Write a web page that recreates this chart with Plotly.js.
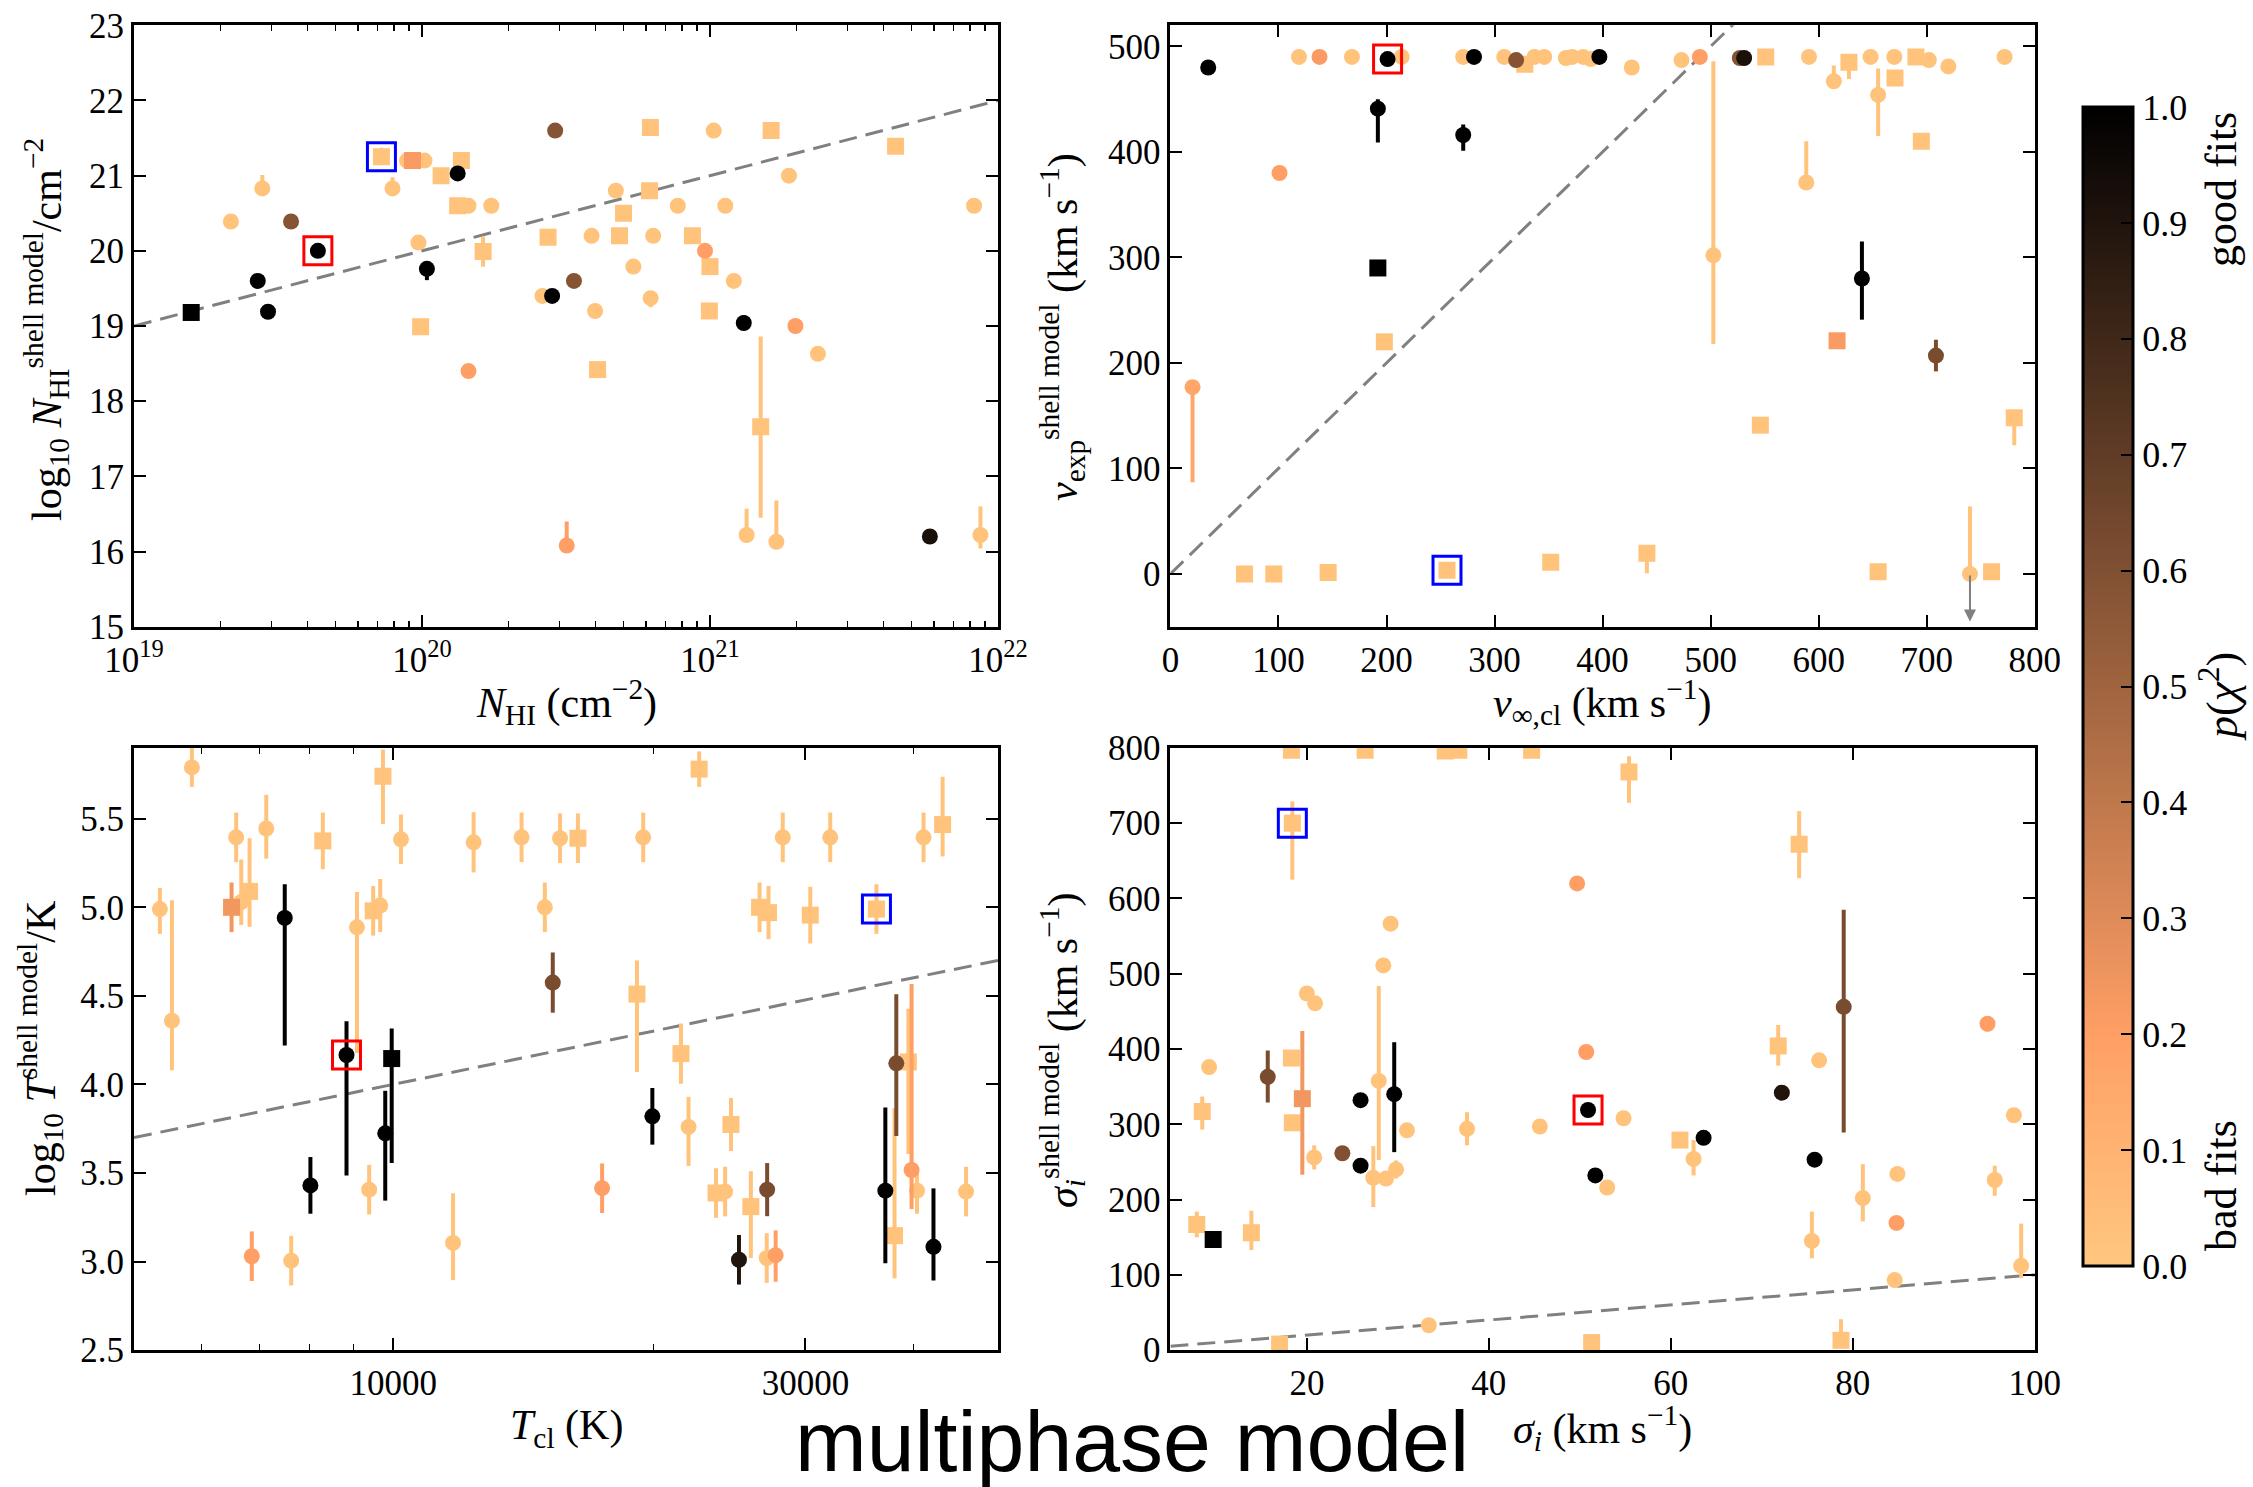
<!DOCTYPE html>
<html><head><meta charset="utf-8">
<script src="https://cdn.plot.ly/plotly-3.0.1.min.js"></script>
<style>body{margin:0;padding:0;background:#fff;} #chart{width:2253px;height:1487px;}</style>
</head><body><div id="chart"></div>
<script>
// ---------------- DATA ----------------
// Panel 1: N_HI (cm^-2) vs log10 N_HI shell model
const p1_x = [1.58e19,2.17e19,2.79e19,2.69e19,2.92e19,3.51e19,4.35e19,7.23e19,7.90e19,8.87e19,1.02e20,9.27e19,9.72e19,1.04e20,9.89e19,1.165e20,1.33e20,1.37e20,1.33e20,1.45e20,1.74e20,1.63e20,1.45e20,2.62e20,2.83e20,2.74e20,2.90e20,3.18e20,3.37e20,6.21e20,1.03e21,1.63e21,4.41e21,1.88e21,4.71e20,6.17e20,5.01e20,7.73e20,1.13e21,8.26e21,3.88e20,4.85e20,6.35e20,8.69e20,9.61e20,5.42e20,1.00e21,1.21e21,6.22e20,3.99e20,9.95e20,1.31e21,1.98e21,2.37e21,4.07e20,1.50e21,1.34e21,1.70e21,5.80e21,8.69e21];
const p1_y = [19.18,20.39,20.83,19.60,19.19,20.39,20.00,21.25,20.83,21.20,21.20,21.20,20.11,19.76,18.99,21.00,21.03,21.20,20.60,20.60,20.60,19.99,18.40,19.40,19.40,20.18,21.60,16.08,19.60,21.64,21.60,21.60,21.39,21.00,20.80,20.80,20.50,20.60,20.60,20.60,20.20,20.20,20.20,20.20,20.00,19.79,19.79,19.60,19.37,19.20,19.20,19.04,19.00,18.63,18.42,17.66,16.22,16.13,16.20,16.22];
const p1_errMinus = [0,0,0,0,0,0,0,0,0,0.1,0,0,0.1,0.15,0,0,0.05,0,0,0,0,0.2,0,0,0,0,0,0,0,0,0,0,0,0,0,0,0.06,0,0,0,0,0,0,0,0,0,0.1,0,0.12,0,0,0,0,0,0,1.21,0.05,0.1,0,0.18];
const p1_errPlus  = [0,0,0.18,0,0,0,0,0.12,0.15,0.1,0,0,0.1,0,0,0,0.08,0,0,0,0,0.2,0,0,0,0,0,0.32,0,0,0,0,0,0,0,0,0.06,0,0,0,0,0,0,0,0,0,0,0,0,0,0,0.1,0,0,0,1.2,0.35,0.55,0,0.38];
const p1_p = [1,0.02,0.02,1,1,0.58,1,0.02,0.02,0.02,0.02,0.22,0.02,1,0.02,0.02,1,0.02,0.02,0.02,0.02,0.02,0.2,0.02,1,0.02,0.58,0.2,0.58,0.02,0.02,0.02,0.02,0.02,0.02,0.02,0.02,0.02,0.02,0.02,0.02,0.02,0.02,0.02,0.2,0.02,0.02,0.02,0.02,0.02,0.02,1,0.2,0.02,0.02,0.02,0.02,0.02,0.92,0.02];
const p1_sym = ['s','c','c','c','c','c','c','s','c','c','c','s','c','c','s','s','c','s','s','c','c','s','c','c','c','s','c','c','c','s','c','s','s','c','c','s','s','c','c','c','c','s','c','s','c','c','s','c','c','c','s','c','c','c','s','s','c','c','c','c'];

// Panel 2: v_inf,cl vs v_exp shell model
const p2_x = [35,119,138,168,201,214,192,271,271,281,309,320,328,337,346,366,372,382,389,397,427,101,192,198,20.5,68.6,95.7,146,256,352,441,473,490,527,531,551,591,628,614,648,670,670.6,690,702,720,772,655,695,588.5,502.5,640,617,708.5,546,781,655,740,760];
const p2_y = [480,490,490,490,488,490,441,416,490,490,490,487,483,490,490,489,490,490,488,490,480,380,290,220,177,0,0,1.3,3.5,11,19.6,487,490,489,489,490,490,485,467,490,490,470,490,487,481,490,454,410,371,302,280,221,207,141,148,2,0,2];
const p2_errMinus = [0,0,0,0,0,0,32,15,0,0,0,0,0,0,0,0,0,0,0,0,0,0,0,0,90,0,0,0,0,0,19,0,0,0,0,0,0,16,5,0,0,4,0,0,0,0,39,0,0,84,39,0,15,0,26,0,0,0];
const p2_errPlus  = [0,0,0,0,0,0,9,10,0,0,0,0,0,0,0,0,0,0,0,0,0,0,0,0,0,0,0,0,0,0,3,0,0,0,0,0,0,0,15,0,0,4,0,0,0,0,25,0,39,184,35,0,15,0,0,0,64,0];
const p2_p = [1,0.02,0.22,0.02,1,0.02,1,1,0.02,1,0.02,0.58,0.02,0.02,0.02,0.02,0.02,0.02,0.02,1,0.02,0.2,1,0.02,0.16,0.02,0.02,0.02,0.02,0.02,0.02,0.02,0.2,0.58,0.92,0.02,0.02,0.02,0.02,0.02,0.02,0.02,0.02,0.02,0.02,0.02,0.02,0.02,0.02,0.02,1,0.22,0.62,0.02,0.02,0.02,0.02,0.02];
const p2_sym = ['c','c','c','c','c','c','c','c','c','c','c','c','s','c','c','c','c','c','c','c','c','c','s','s','c','s','s','s','s','s','s','c','c','c','c','s','c','s','c','c','c','s','s','c','c','c','c','s','c','c','c','s','c','s','s','s','c','s'];
const p2_limit_x = [740];      // upper-limit arrow
const p2_limit_y = [0];

// Panel 3: T_cl (K) vs log10 T shell model
const p3_x = [5370,5545,5848,6580,6500,6670,6820,7130,6860,7620,7490,8020,8290,8830,9080,9480,9660,9730,10210,9960,9790,9380,11730,12390,14080,14980,15600,16360,15300,19470,22600,28240,32050,41100,43240,26550,27190,30390,36250,19150,21530,19950,21970,24600,17450,23640,24220,25940,27090,25130,27060,27710,37120,38040,38220,39470,39810,40390,42200,46030];
const p3_y = [4.99,4.36,5.79,5.395,5.00,5.03,5.09,5.445,3.03,3.005,4.94,3.43,5.375,4.166,4.887,4.98,5.01,5.74,5.384,4.146,3.724,3.406,3.105,5.367,5.395,5.00,5.39,5.39,4.575,5.395,5.78,5.395,5.395,5.395,5.467,5.00,4.97,4.956,4.99,4.51,4.174,3.82,3.76,3.774,3.414,3.387,3.395,3.31,3.406,3.01,3.02,3.036,3.40,3.146,4.119,4.127,3.517,3.40,3.083,3.395];
const p3_errMinus = [0.14,0.28,0.11,0.14,0.14,0.13,0.2,0.17,0.14,0.14,0.72,0.16,0.16,0.68,0.71,0.14,0.15,0.27,0.14,0.59,0.38,0.14,0.21,0.17,0.14,0.14,0.14,0.14,0.17,0.14,0.1,0.14,0.14,0.14,0.18,0.14,0.15,0.16,0.14,0.44,0.17,0.16,0.22,0.15,0.14,0.14,0.14,0.29,0.15,0.14,0.14,0.15,0.41,0.24,0.41,0.52,0.22,0.13,0.19,0.14];
const p3_errPlus  = [0.12,0.68,0.11,0.14,0.14,0.24,0.3,0.19,0.14,0.14,0.19,0.16,0.16,0.19,0.2,0.14,0.15,0.15,0.14,0.17,0.24,0.14,0.28,0.17,0.14,0.14,0.14,0.14,0.17,0.14,0.1,0.14,0.14,0.14,0.27,0.14,0.15,0.16,0.14,0.19,0.17,0.16,0.17,0.15,0.14,0.14,0.14,0.2,0.15,0.14,0.14,0.14,0.47,0.72,0.39,0.3,1.05,0.13,0.33,0.14];
const p3_p = [0.02,0.02,0.02,0.02,0.24,0.02,0.02,0.02,0.2,0.02,1,1,0.02,1,0.02,0.02,0.02,0.02,0.02,1,1,0.02,0.02,0.02,0.02,0.02,0.02,0.02,0.62,0.02,0.02,0.02,0.02,0.02,0.02,0.02,0.02,0.02,0.02,0.02,0.02,1,0.02,0.02,0.2,0.02,0.02,0.02,0.62,0.9,0.02,0.2,1,0.02,0.62,0.02,0.2,0.02,1,0.02];
const p3_sym = ['c','c','c','c','s','c','s','c','c','c','c','c','s','c','c','s','c','s','c','s','c','c','c','c','c','c','c','s','c','c','s','c','c','c','s','s','s','s','s','s','s','c','c','s','c','s','c','s','c','c','c','c','c','s','c','s','c','c','c','c'];

// Panel 4: sigma_i vs sigma_i shell model
const p4_x = [18.3,26.4,35.2,36.7,44.7,18.4,55.4,49.7,29.2,28.4,20.0,20.9,50.7,9.25,15.7,18.3,19.5,18.4,8.5,25.9,29.6,27.9,31.0,37.6,45.6,50.9,54.8,23.9,25.9,20.8,27.3,28.7,29.8,51.7,53.0,7.9,9.7,13.9,33.4,17.0,51.3,74.1,79.0,94.8,71.8,76.3,72.2,61.0,63.6,62.5,75.8,97.7,84.9,95.6,81.1,84.8,75.5,98.5,84.6,78.7];
const p4_y = [797,797,796,797,797,700,768,620,566.5,511,473.7,460.7,396,376,363,388,334,302,317,332,340,357.6,292,294,297,319,308,261.5,245,256,229,228,240,232,216,167,147,156,33,8,10,672,456,433.5,404,385,342,279,282,254,253,312,234,226,202,169,145,112,93,13];
const p4_errMinus = [0,0,0,0,0,75,41,0,0,0,0,0,0,6,34,0,101,0,24,0,77,105,5,22,0,0,0,0,0,16,39,10,12,0,0,17,0,23,0,0,0,45,167,10,26,0,0,0,0,22,0,6,6,21,31,0,23,16,0,0];
const p4_errPlus  = [0,0,0,0,0,29,21,0,10,0,0,0,0,6,35,0,90,0,20,0,69,126,5,22,0,0,0,0,0,16,42,10,12,0,0,17,0,29,0,0,0,44,129,10,28,0,0,0,0,25,0,6,6,19,45,0,39,56,0,28];
const p4_p = [0.02,0.02,0.02,0.02,0.02,0.02,0.02,0.2,0.02,0.02,0.02,0.02,0.2,0.02,0.62,0.02,0.24,0.02,0.02,1,1,0.02,0.02,0.02,0.02,1,0.02,0.6,1,0.02,0.02,0.02,0.02,1,0.02,0.02,1,0.02,0.02,0.02,0.02,0.02,0.62,0.2,0.02,0.02,0.9,0.02,1,0.02,1,0.02,0.02,0.02,0.02,0.2,0.02,0.02,0.02,0.02];
const p4_sym = ['s','s','s','s','s','s','s','c','c','c','c','c','c','c','c','s','s','s','s','c','c','c','c','c','c','c','c','c','c','c','c','c','c','c','c','s','s','s','c','s','s','s','c','c','s','c','c','s','c','c','c','c','c','c','c','c','c','c','c','s'];

// Highlighted objects (red / blue boxes), one per panel
const red_x  = [4.35e19, 201, 8830, 50.9];
const red_y  = [20.00, 488, 4.166, 319];
const blue_x = [7.23e19, 256, 36250, 18.4];
const blue_y = [21.25, 3.5, 4.99, 700];

// one-to-one reference lines (axis extents)
const p1_line_x = [1e19, 1e22];
const p2_line_x = [0, 800];
const p3_line_x = [Math.pow(10,3.7), Math.pow(10,4.7)];
const p4_line_x = [5, 100];

// colour bar ticks
const cb_ticks = [0,0.1,0.2,0.3,0.4,0.5,0.6,0.7,0.8,0.9,1.0];

// ---------------- STYLE ----------------
const W = 2253, H = 1487;
const SERIF = 'Liberation Serif, Times New Roman, serif';
function copperR(p){ const x = 1-p; const r=Math.min(1,1.25*x), g=0.7812*x, b=0.4975*x;
  return 'rgb('+Math.round(r*255)+','+Math.round(g*255)+','+Math.round(b*255)+')'; }
const cscale = cb_ticks.map(t => [t, copperR(t)]);

function panelTraces(xs, ys, em, ep, ps, syms, xa, ya){
  const idx = xs.map((_, i) => i).sort((a,b) => ps[a]-ps[b]);
  return idx.map(i => {
    const c = copperR(ps[i]);
    const hasErr = (em[i] > 0 || ep[i] > 0);
    return {type:'scatter', mode:'markers', x:[xs[i]], y:[ys[i]], xaxis:xa, yaxis:ya,
      marker:{symbol: syms[i]==='s' ? 'square' : 'circle', size: syms[i]==='s' ? 17 : 16, color:c, line:{width:0}},
      error_y: hasErr ? {type:'data', symmetric:false, array:[ep[i]], arrayminus:[em[i]], color:c, thickness:4, width:0, visible:true} : {visible:false},
      showlegend:false, hoverinfo:'skip', cliponaxis:true};
  });
}
function dashLine(xs, f, xa, ya){
  return {type:'scatter', mode:'lines', x:xs, y:xs.map(f), xaxis:xa, yaxis:ya,
    line:{color:'#808080', width:3, dash:'18px,9px'}, showlegend:false, hoverinfo:'skip'};
}
function boxTrace(k, xs, ys, col, xa, ya){
  return {type:'scatter', mode:'markers', x:[xs[k]], y:[ys[k]], xaxis:xa, yaxis:ya,
    marker:{symbol:'square-open', size:28, color:col, line:{width:3, color:col}}, showlegend:false, hoverinfo:'skip'};
}

const traces = [];
traces.push(dashLine(p1_line_x, v => Math.log10(v), 'x', 'y'));
traces.push(dashLine(p2_line_x, v => v, 'x2', 'y2'));
traces.push(dashLine(p3_line_x, v => Math.log10(v), 'x3', 'y3'));
traces.push(dashLine(p4_line_x, v => v, 'x4', 'y4'));
traces.push(...panelTraces(p1_x,p1_y,p1_errMinus,p1_errPlus,p1_p,p1_sym,'x','y'));
traces.push(...panelTraces(p2_x,p2_y,p2_errMinus,p2_errPlus,p2_p,p2_sym,'x2','y2'));
traces.push(...panelTraces(p3_x,p3_y,p3_errMinus,p3_errPlus,p3_p,p3_sym,'x3','y3'));
traces.push(...panelTraces(p4_x,p4_y,p4_errMinus,p4_errPlus,p4_p,p4_sym,'x4','y4'));
const axPairs = [['x','y'],['x2','y2'],['x3','y3'],['x4','y4']];
axPairs.forEach((a,k) => {
  traces.push(boxTrace(k, red_x, red_y, '#ff0000', a[0], a[1]));
  traces.push(boxTrace(k, blue_x, blue_y, '#0000ff', a[0], a[1]));
});
// colour bar carrier
traces.push({type:'scatter', mode:'markers', x:[p2_x[0]], y:[p2_y[0]], xaxis:'x2', yaxis:'y2',
  marker:{size:0.1, opacity:0, color:[1], cmin:0, cmax:1, colorscale:cscale, showscale:true,
    colorbar:{x:2083/W, xanchor:'left', y:1-(107+1266)/2/H, yanchor:'middle', len:(1266-107)/H, lenmode:'fraction',
      thickness:50, thicknessmode:'pixels', outlinewidth:3, outlinecolor:'black', xpad:0, ypad:0,
      tickmode:'array', tickvals:cb_ticks, ticktext:cb_ticks.map(v=>v.toFixed(1)), ticks:'inside', ticklen:13, tickwidth:2, tickcolor:'black',
      tickfont:{family:SERIF, size:36, color:'black'}}},
  showlegend:false, hoverinfo:'skip'});

const axBase = {showline:true, linewidth:3, linecolor:'black', mirror:'allticks', ticks:'inside', ticklen:12, tickwidth:2,
  tickcolor:'black', showgrid:false, zeroline:false, tickfont:{family:SERIF, size:35, color:'black'}, automargin:false};
const dxL = [134/W, 998/W], dxR = [1170.4/W, 2034.8/W];
const dyT = [1-626.7/H, 1-25.3/H], dyB = [1-1350.1/H, 1-747.9/H];

function ann(text, xp, yp, angle, size, fam){
  return {text:text, x:xp/W, y:1-yp/H, xref:'paper', yref:'paper', showarrow:false, textangle:angle||0,
    xanchor:'center', yanchor:'middle', font:{family:fam||SERIF, size:size||42, color:'black'}};
}

const layout = {
  width:W, height:H, margin:{l:0,r:0,t:0,b:0}, paper_bgcolor:'white', plot_bgcolor:'white', showlegend:false,
  xaxis: Object.assign({}, axBase, {domain:dxL, anchor:'y', type:'log', range:[19,22],
    tickvals:[1e19,1e20,1e21,1e22], ticktext:['10<sup>19</sup>','10<sup>20</sup>','10<sup>21</sup>','10<sup>22</sup>'],
    minor:{ticks:'inside', ticklen:6, tickwidth:1.5, tickcolor:'black', dtick:'D1', showgrid:false}}),
  yaxis: Object.assign({}, axBase, {domain:dyT, anchor:'x', range:[15,23], tickvals:[15,16,17,18,19,20,21,22,23]}),
  xaxis2: Object.assign({}, axBase, {domain:dxR, anchor:'y2', range:[0,800], tickvals:[0,100,200,300,400,500,600,700,800]}),
  yaxis2: Object.assign({}, axBase, {domain:dyT, anchor:'x2', range:[-50,520], tickvals:[0,100,200,300,400,500]}),
  xaxis3: Object.assign({}, axBase, {domain:dxL, anchor:'y3', type:'log', range:[3.7,4.7],
    tickvals:[10000,30000], ticktext:['10000','30000'],
    minor:{tickmode:'array', tickvals:[6000,7000,8000,9000,20000,40000,50000], ticks:'inside', ticklen:6, tickwidth:1.5, tickcolor:'black', showgrid:false}}),
  yaxis3: Object.assign({}, axBase, {domain:dyB, anchor:'x3', range:[2.5,5.9], tickvals:[2.5,3.0,3.5,4.0,4.5,5.0,5.5], tickformat:'.1f'}),
  xaxis4: Object.assign({}, axBase, {domain:dxR, anchor:'y4', range:[5,100], tickvals:[20,40,60,80,100]}),
  yaxis4: Object.assign({}, axBase, {domain:dyB, anchor:'x4', range:[0,800], tickvals:[0,100,200,300,400,500,600,700,800]}),
  annotations: [
    ann('<i>N</i><sub>HI</sub> (cm<sup>−2</sup>)', 566, 702, 0),
    ann('<i>v</i><sub>∞,cl</sub> (km s<sup>−1</sup>)', 1602, 702, 0),
    ann('<i>T</i><sub>cl</sub> (K)', 566, 1428, 0),
    ann('<i>σ</i><sub><i>i</i></sub> (km s<sup>−1</sup>)', 1602, 1428, 0),
    ann('log<sub>10</sub> <i>N</i><sub>HI</sub><sup>shell model</sup>/cm<sup>−2</sup>', 46, 330, -90),
    ann('<i>v</i><sub>exp</sub><sup>shell model</sup> (km s<sup>−1</sup>)', 1062, 327, -90),
    ann('log<sub>10</sub> <i>T</i><sup>shell model</sup>/K', 40, 1049, -90),
    ann('<i>σ</i><sub><i>i</i></sub><sup>shell model</sup> (km s<sup>−1</sup>)', 1062, 1050, -90),
    ann('good fits', 2221, 190, -90, 44),
    ann('<i>p</i>(<i>χ</i><sup>2</sup>)', 2219, 697, -90, 44),
    ann('bad fits', 2221, 1186, -90, 44),
    ann('multiphase model', 1132, 1441, 0, 86, 'Liberation Sans, Arial, sans-serif'),
    {x:p2_limit_x[0], y:-45, ax:p2_limit_x[0], ay:p2_limit_y[0], xref:'x2', yref:'y2', axref:'x2', ayref:'y2',
     showarrow:true, arrowhead:2, arrowsize:1.2, arrowwidth:2, arrowcolor:'#808080', text:''}
  ]
};
Plotly.newPlot('chart', traces, layout, {staticPlot:true, displayModeBar:false});
</script></body></html>
